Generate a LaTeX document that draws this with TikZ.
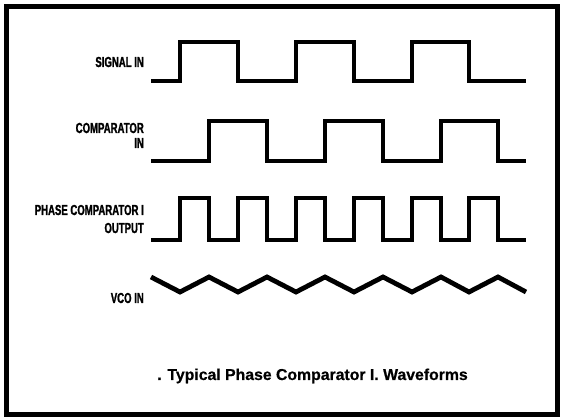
\documentclass[tikz,border=0pt]{standalone}
\usepackage{fontspec}
\setmainfont{Liberation Sans}[BoldFeatures={FakeBold=0.6}]
\newfontfamily\labelfont{Liberation Sans}[FakeStretch=0.66,BoldFeatures={FakeBold=1.4}]
\begin{document}
\begin{tikzpicture}[x=1pt,y=-1pt,
  wave/.style={line width=4.8pt,line join=miter,line cap=butt},
  siglabel/.style={anchor=base east,inner sep=0pt,align=right,
    font=\labelfont\bfseries\fontsize{14.5}{16}\selectfont},
  caption/.style={anchor=base west,inner sep=0pt,
    font=\bfseries\fontsize{15.8}{18}\selectfont}]
  \useasboundingbox (0,0) rectangle (562,419);
  % frame
  \draw[line width=5pt] (6.5,6.5) rectangle (557.5,414.5);

  % labels
  \node[siglabel] (lsig) at (144,67) {SIGNAL IN};
  \node[siglabel] (lcmpa) at (144,133) {COMPARATOR};
  \node[siglabel] (lcmpb) at (144,148) {IN};
  \node[siglabel] (louta) at (144,215) {PHASE COMPARATOR I};
  \node[siglabel] (loutb) at (144,233) {OUTPUT};
  \node[siglabel] (lvco) at (144,303) {VCO IN};

  % signal in
  \draw[wave] (151,81) -- (180,81) -- (180,42) -- (238,42) -- (238,81)
    -- (296,81) -- (296,42) -- (354,42) -- (354,81) -- (412,81)
    -- (412,42) -- (469,42) -- (469,81) -- (526,81);

  % comparator in
  \draw[wave] (151,161) -- (209,161) -- (209,121) -- (267,121) -- (267,161)
    -- (325,161) -- (325,121) -- (383,121) -- (383,161) -- (441,161)
    -- (441,121) -- (498,121) -- (498,161) -- (526,161);

  % phase comparator output
  \draw[wave] (151,240) -- (180,240) -- (180,198) -- (209,198) -- (209,240)
    -- (238,240) -- (238,198) -- (267,198) -- (267,240)
    -- (296,240) -- (296,198) -- (325,198) -- (325,240)
    -- (354,240) -- (354,198) -- (383,198) -- (383,240)
    -- (412,240) -- (412,198) -- (441,198) -- (441,240)
    -- (469,240) -- (469,198) -- (498,198) -- (498,240) -- (526,240);

  % vco in
  \draw[wave] (151,277) -- (180,292) -- (209,277) -- (238,292) -- (267,277)
    -- (296,292) -- (325,277) -- (354,292) -- (383,277) -- (412,292)
    -- (441,277) -- (469,292) -- (498,277) -- (526,292);

  % caption
  \node[caption] (title) at (157,380) {. Typical Phase Comparator I. Waveforms};
\end{tikzpicture}
\end{document}
